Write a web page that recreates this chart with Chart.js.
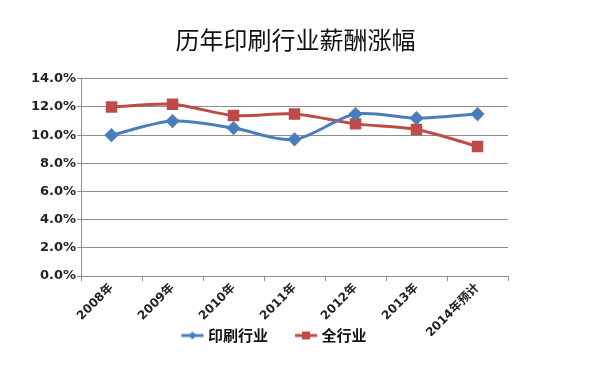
<!DOCTYPE html>
<html>
<head>
<meta charset="utf-8">
<script src="https://cdn.jsdelivr.net/npm/chart.js@4.4.1/dist/chart.umd.min.js"></script>
<style>
  html, body { margin: 0; padding: 0; background: #fff; }
  #wrap { width: 601px; height: 367px; }
</style>
</head>
<body>
<div id="wrap"><canvas id="line-chart" width="601" height="367"></canvas></div>
<script>
const labels_line = ["2008年", "2009年", "2010年", "2011年", "2012年", "2013年", "2014年预计"];
const print_industry = [10.0, 11.0, 10.5, 9.7, 11.5, 11.2, 11.5];
const all_industry = [12.0, 12.2, 11.4, 11.5, 10.8, 10.4, 9.2];
const y_ticks = [0, 2, 4, 6, 8, 10, 12, 14];

const blue = "#4a7ebb";
const red = "#be4b48";
const tickFont = { family: "'DejaVu Sans', 'Noto Sans CJK SC', sans-serif", size: 12, weight: "bold" };

// legend swatch: line with marker, blank room on the left for item spacing
function swatch(color, shape) {
  const c = document.createElement("canvas");
  c.width = 50; c.height = 12;
  const g = c.getContext("2d");
  g.strokeStyle = color; g.lineWidth = 3;
  g.beginPath(); g.moveTo(26, 6); g.lineTo(48, 6); g.stroke();
  g.fillStyle = color;
  g.beginPath();
  if (shape === "diamond") {
    g.moveTo(37, 2); g.lineTo(41, 6); g.lineTo(37, 10); g.lineTo(33, 6);
  } else {
    g.rect(33, 2, 8, 8);
  }
  g.fill();
  return c;
}

const data_line = {
  labels: labels_line,
  datasets: [
    {
      label: "印刷行业",
      data: print_industry,
      borderColor: blue,
      backgroundColor: blue,
      borderWidth: 3,
      pointStyle: "rectRot",
      pointRadius: 5,
      tension: 0.3,
    },
    {
      label: "全行业",
      data: all_industry,
      borderColor: red,
      backgroundColor: red,
      borderWidth: 3,
      pointStyle: "rect",
      pointRadius: 6,
      tension: 0.3,
    },
  ],
};

// move legend up into the label band and a bit left; title a touch left
const nudge = {
  id: "nudge",
  afterLayout(chart) {
    const lg = chart.legend;
    lg.left -= 37; lg.right -= 37;
    lg.top -= 14; lg.bottom -= 14;
    chart.titleBlock.left -= 5; chart.titleBlock.right -= 5;
  },
};

const config_line = {
  type: "line",
  data: data_line,
  plugins: [nudge],
  options: {
    responsive: false,
    animation: false,
    layout: { padding: { left: 0, right: 0, top: 0, bottom: 0 } },
    plugins: {
      title: {
        display: true,
        text: "历年印刷行业薪酬涨幅",
        color: "#111",
        font: { family: "'Noto Sans CJK SC', sans-serif", size: 24, weight: "normal" },
        padding: { top: 25, bottom: 25 },
      },
      legend: {
        position: "bottom",
        labels: {
          usePointStyle: true,
          pointStyleWidth: 40,
          padding: 6,
          color: "#111",
          font: { family: "'Noto Sans CJK SC', sans-serif", size: 15, weight: "bold" },
          generateLabels(chart) {
            return chart.data.datasets.map((ds, i) => ({
              text: ds.label,
              pointStyle: swatch(ds.borderColor, i === 0 ? "diamond" : "square"),
              fillStyle: ds.borderColor,
              strokeStyle: ds.borderColor,
              lineWidth: 0,
              datasetIndex: i,
              fontColor: "#111",
            }));
          },
        },
      },
      tooltip: { enabled: false },
    },
    scales: {
      x: {
        offset: true,
        grid: { display: true, drawOnChartArea: false, drawTicks: true, tickLength: 5, offset: true, color: "#8e8e8e" },
        border: { color: "#8e8e8e", width: 1 },
        ticks: { color: "#222", font: tickFont, minRotation: 45, maxRotation: 45, padding: 0 },
        afterFit(s) { s.height = 60; },
      },
      y: {
        min: 0,
        max: 14,
        afterBuildTicks(s) { s.ticks = y_ticks.map(v => ({ value: v })); },
        grid: { color: "#8e8e8e", lineWidth: 1, tickLength: 4 },
        border: { color: "#8e8e8e", width: 1 },
        ticks: { color: "#222", font: { ...tickFont, size: 13 }, padding: 1, callback: v => v.toFixed(1) + "%" },
        afterFit(s) { s.width = 81; },
      },
      yr: {
        position: "right",
        display: true,
        grid: { display: false },
        border: { display: false },
        ticks: { display: false },
        afterFit(s) { s.width = 93; },
      },
    },
  },
};
var ctx_line = document.getElementById("line-chart").getContext("2d");

var myChart_line = new Chart(ctx_line, config_line);
</script>
</body>
</html>
